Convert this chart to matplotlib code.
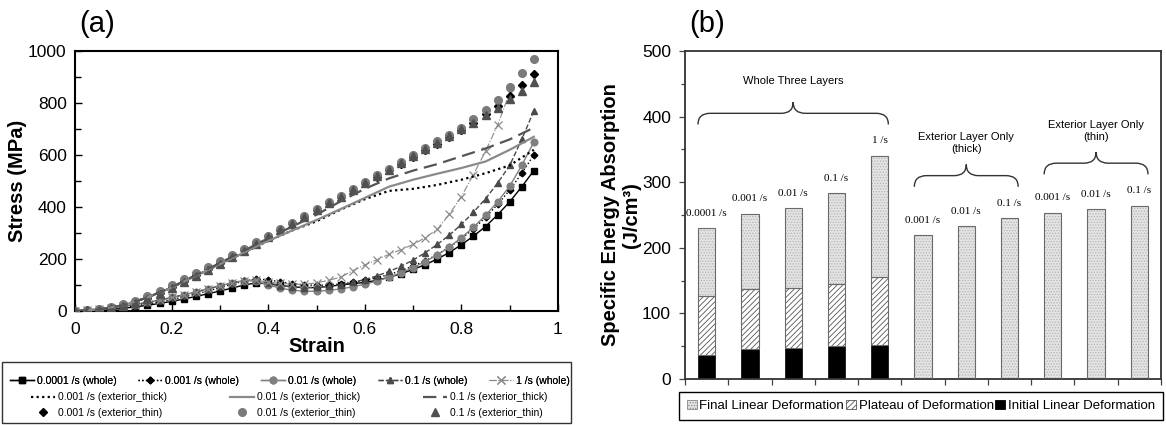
import numpy as np
import matplotlib
matplotlib.use('Agg')
import matplotlib.pyplot as plt
from matplotlib.patches import Rectangle, PathPatch, Patch
from matplotlib.path import Path
from matplotlib.ticker import MultipleLocator, FixedLocator

plt.rcParams['font.family'] = ['Liberation Sans', 'DejaVu Sans']
plt.rcParams['hatch.linewidth'] = 0.6

# ---------------- Panel (a) data ----------------
strain = [0, 0.025, 0.05, 0.075, 0.1, 0.125, 0.15, 0.175, 0.2, 0.225, 0.25, 0.275,
          0.3, 0.325, 0.35, 0.375, 0.4, 0.425, 0.45, 0.475, 0.5, 0.525, 0.55, 0.575,
          0.6, 0.625, 0.65, 0.675, 0.7, 0.725, 0.75, 0.775, 0.8, 0.825, 0.85, 0.875,
          0.9, 0.925, 0.95]
strain_1s = strain[:37]
strain_coarse = [0, 0.05, 0.1, 0.15, 0.2, 0.25, 0.3, 0.35, 0.4, 0.45, 0.5, 0.55,
                 0.6, 0.65, 0.7, 0.75, 0.8, 0.85, 0.9, 0.95]

whole_00001 = [0, 1, 3, 6, 10, 16, 22, 29, 37, 46, 56, 66, 77, 88, 100, 108, 104, 98, 93, 90,
               90, 95, 100, 105, 110, 118, 130, 143, 160, 178, 200, 225, 255, 288, 325, 370,
               420, 478, 540]
whole_0001 = [0, 2, 5, 9, 14, 20, 27, 35, 44, 54, 65, 77, 90, 103, 115, 123, 120, 112, 105, 100,
              99, 100, 104, 110, 118, 128, 140, 155, 173, 193, 217, 245, 278, 316, 360, 410,
              465, 530, 600]
whole_001 = [0, 3, 7, 12, 18, 25, 33, 42, 52, 62, 73, 85, 97, 108, 117, 115, 100, 88, 80, 76,
             76, 79, 85, 93, 103, 115, 130, 147, 167, 190, 216, 246, 282, 322, 368, 420,
             480, 560, 650]
whole_01 = [0, 3, 7, 12, 18, 25, 33, 42, 52, 62, 73, 85, 97, 108, 118, 118, 108, 98, 92, 90,
            91, 95, 101, 110, 121, 135, 152, 172, 196, 224, 256, 292, 333, 380, 432, 492,
            560, 660, 770]
whole_1 = [0, 3, 7, 12, 18, 25, 33, 42, 52, 62, 73, 85, 97, 108, 117, 118, 112, 106, 103, 103,
           108, 118, 130, 155, 177, 197, 218, 236, 256, 282, 314, 372, 440, 525, 615, 715, 840]

thick_0001 = [0, 6, 22, 52, 90, 135, 180, 225, 270, 310, 345, 390, 430, 462, 470, 485, 505, 530, 560, 620]
thick_001 = [0, 6, 22, 52, 90, 135, 180, 225, 270, 310, 350, 392, 435, 478, 505, 528, 550, 575, 620, 670]
thick_01 = [0, 6, 22, 52, 92, 138, 185, 232, 280, 325, 370, 422, 470, 510, 540, 565, 595, 625, 660, 705]

thin_0001 = [0, 2, 6, 12, 22, 34, 50, 70, 93, 115, 138, 161, 185, 210, 236, 261, 287, 312, 338, 363,
             389, 414, 440, 465, 491, 516, 542, 567, 593, 618, 644, 669, 695, 725, 757, 790,
             828, 868, 912]
thin_001 = [0, 3, 8, 15, 26, 40, 57, 77, 100, 122, 145, 168, 192, 216, 240, 265, 290, 315, 340, 366,
            392, 418, 444, 470, 496, 522, 548, 574, 600, 626, 652, 678, 705, 737, 772, 810,
            860, 915, 970]
thin_01 = [0, 2, 5, 11, 20, 32, 47, 66, 88, 110, 133, 157, 181, 206, 232, 258, 284, 310, 336, 362,
           388, 414, 440, 466, 492, 518, 544, 570, 596, 622, 648, 674, 700, 725, 752, 782,
           815, 848, 880]

# ---------------- Panel (b) data ----------------
rate_labels = ['0.0001 /s', '0.001 /s', '0.01 /s', '0.1 /s', '1 /s',
               '0.001 /s', '0.01 /s', '0.1 /s',
               '0.001 /s', '0.01 /s', '0.1 /s']
initial = [36, 46, 47, 51, 52, 0, 0, 0, 0, 0, 0]
plateau = [91, 91, 91, 94, 103, 0, 0, 0, 0, 0, 0]
final = [103, 115, 122, 138, 185, 219, 233, 245, 253, 259, 264]
groups = ['Whole Three Layers', 'Exterior Layer Only\n(thick)', 'Exterior Layer Only\n(thin)']
group_members = [[0, 1, 2, 3, 4], [5, 6, 7], [8, 9, 10]]

W, H = 1166, 425
fig = plt.figure(figsize=(W / 100, H / 100), dpi=100)


def fx(px):
    return px / W


def fy(py):
    return 1 - py / H


# ================= Panel (a) =================
axa = fig.add_axes([fx(75), fy(311), (558 - 75) / W, (311 - 51) / H])

h1, = axa.plot(strain, whole_00001, color='black', ls='-', lw=1.0, marker='s', ms=4.2,
               label='0.0001 /s (whole)', zorder=3)
h2, = axa.plot(strain, whole_0001, color='black', ls=':', lw=1.0, marker='D', ms=3.4,
               label='0.001 /s (whole)', zorder=3)
h3, = axa.plot(strain, whole_001, color='#808080', ls='-', lw=1.0, marker='o', ms=4.8,
               label='0.01 /s (whole)', zorder=3)
h4, = axa.plot(strain, whole_01, color='#4a4a4a', ls='--', lw=1.0, marker='^', ms=4.8,
               label='0.1 /s (whole)', zorder=3)
h5, = axa.plot(strain_1s, whole_1, color='#8a8a8a', ls='-.', lw=0.8, marker='x', ms=5.5,
               mew=0.9, label='1 /s (whole)', zorder=3)

t1, = axa.plot(strain, thin_0001, ls='none', color='black', marker='D', ms=3.8,
               label='0.001 /s (exterior_thin)', zorder=4)
t2, = axa.plot(strain, thin_001, ls='none', color='#7a7a7a', marker='o', ms=5.5,
               label='0.01 /s (exterior_thin)', zorder=4)
t3, = axa.plot(strain, thin_01, ls='none', color='#505050', marker='^', ms=5.5,
               label='0.1 /s (exterior_thin)', zorder=4)

k1, = axa.plot(strain_coarse, thick_0001, color='black', ls=(0, (1, 1.5)), lw=1.6,
               label='0.001 /s (exterior_thick)', zorder=5)
k2, = axa.plot(strain_coarse, thick_001, color='#8a8a8a', ls='-', lw=1.6,
               label='0.01 /s (exterior_thick)', zorder=5)
k3, = axa.plot(strain_coarse, thick_01, color='#555555', ls=(0, (6, 3)), lw=1.6,
               label='0.1 /s (exterior_thick)', zorder=5)

axa.set_xlim(0, 1)
axa.set_ylim(0, 1000)
axa.xaxis.set_minor_locator(MultipleLocator(0.1))
axa.yaxis.set_major_locator(MultipleLocator(200))
axa.yaxis.set_minor_locator(MultipleLocator(100))
axa.set_xticks([0, 0.2, 0.4, 0.6, 0.8, 1.0])
axa.set_xticklabels(['0', '0.2', '0.4', '0.6', '0.8', '1'])
axa.tick_params(axis='both', which='both', direction='in', labelsize=12.5, width=1)
axa.tick_params(axis='x', which='major', length=5, pad=8)
axa.tick_params(axis='x', which='minor', length=4)
axa.tick_params(axis='y', which='major', length=5, pad=6)
axa.tick_params(axis='y', which='minor', length=4)
for sp in axa.spines.values():
    sp.set_linewidth(1.5)
    sp.set_color('black')
axa.set_xlabel('Strain', fontsize=14.5, fontweight='bold', labelpad=0)
fig.text(fx(18), fy(181), 'Stress (MPa)', fontsize=14.5, fontweight='bold', rotation=90,
         ha='center', va='center')

fig.text(fx(97), fy(24), '(a)', fontsize=21, ha='center', va='center')

# legend frame (a)
fig.add_artist(Rectangle((fx(2), fy(423)), (571 - 2) / W, (423 - 362) / H,
                         transform=fig.transFigure, fill=False, edgecolor='#333333', lw=1.0))
leg1 = fig.legend(handles=[h1, h2, h3, h4, h5], loc='lower left',
                  bbox_to_anchor=(fx(10), fy(386), (570 - 10) / W, (386 - 368) / H),
                  mode='expand', ncol=5, frameon=False, fontsize=7.5,
                  handlelength=2.3, handletextpad=0.3, borderaxespad=0, borderpad=0,
                  columnspacing=0.5)
fig.add_artist(leg1)
leg2 = fig.legend(handles=[k1, t1, k2, t2, k3, t3], loc='lower left',
                  bbox_to_anchor=(fx(31), fy(418), (548 - 31) / W, (418 - 385) / H),
                  mode='expand', ncol=3, frameon=False, fontsize=7.5,
                  handlelength=2.3, handletextpad=0.3, borderaxespad=0, borderpad=0,
                  labelspacing=0.55, columnspacing=0.5)

# ================= Panel (b) =================
axb = fig.add_axes([fx(685), fy(379), (1161 - 685) / W, (379 - 51) / H])
xpos = np.arange(len(rate_labels))
bw = 0.4
init_arr = np.array(initial)
plat_arr = np.array(plateau)
fin_arr = np.array(final)
total = init_arr + plat_arr + fin_arr

final_face = '#e4e4e4'
final_hatch = '#b4b4b4'
outline = '#6a6a6a'

axb.bar(xpos, init_arr, bw, color='black', edgecolor='black', lw=0.5, zorder=2)
axb.bar(xpos, plat_arr, bw, bottom=init_arr, facecolor='white', edgecolor='#555555',
        hatch='//////', lw=0, zorder=2)
axb.bar(xpos, plat_arr, bw, bottom=init_arr, fill=False, edgecolor=outline, lw=0.8, zorder=3)
axb.bar(xpos, fin_arr, bw, bottom=init_arr + plat_arr, facecolor=final_face,
        edgecolor=final_hatch, hatch='......', lw=0, zorder=2)
axb.bar(xpos, fin_arr, bw, bottom=init_arr + plat_arr, fill=False, edgecolor=outline,
        lw=0.8, zorder=3)

for xi, tv, lab in zip(xpos, total, rate_labels):
    axb.text(xi, tv + 23, lab, ha='center', va='center', fontsize=8,
             family=['Liberation Serif', 'DejaVu Serif'])


def brace(ax, x0, x1, yb, ym, yt, r=0.28):
    xc = 0.5 * (x0 + x1)
    verts = [(x0, yb), (x0, ym), (x0 + r, ym),
             (xc - r, ym), (xc, ym), (xc, yt),
             (xc, ym), (xc + r, ym),
             (x1 - r, ym), (x1, ym), (x1, yb)]
    codes = [Path.MOVETO, Path.CURVE3, Path.CURVE3,
             Path.LINETO, Path.CURVE3, Path.CURVE3,
             Path.CURVE3, Path.CURVE3,
             Path.LINETO, Path.CURVE3, Path.CURVE3]
    ax.add_patch(PathPatch(Path(verts, codes), fill=False, edgecolor='#333333', lw=1.0))


for name, members in zip(groups, group_members):
    top = max(total[m] for m in members)
    base = top + 48
    x0 = members[0] - 0.2
    x1 = members[-1] + 0.2
    brace(axb, x0, x1, base, base + 17, base + 34)
    axb.text(0.5 * (members[0] + members[-1]), base + 66, name, ha='center', va='center',
             fontsize=8, linespacing=1.25)

axb.set_xlim(-0.5, len(rate_labels) - 0.5)
axb.set_ylim(0, 500)
axb.xaxis.set_major_locator(FixedLocator(np.arange(-0.5, len(rate_labels), 1.0)))
axb.set_xticklabels([])
axb.yaxis.set_major_locator(MultipleLocator(100))
axb.yaxis.set_minor_locator(MultipleLocator(50))
axb.tick_params(axis='both', which='both', direction='out', labelsize=12.5, width=0.9,
                color='#444444')
axb.tick_params(axis='x', which='major', length=4)
axb.tick_params(axis='y', which='major', length=4, pad=6)
axb.tick_params(axis='y', which='minor', length=3)
for sp in axb.spines.values():
    sp.set_linewidth(1.3)
    sp.set_color('#333333')

fig.text(fx(611), fy(215), 'Specific Energy Absorption', fontsize=14.5,
         fontweight='bold', rotation=90, ha='center', va='center')
fig.text(fx(631), fy(215), '(J/cm³)', fontsize=14.5,
         fontweight='bold', rotation=90, ha='center', va='center')

fig.text(fx(707), fy(24), '(b)', fontsize=21, ha='center', va='center')

leg_handles = [Patch(facecolor=final_face, edgecolor='#888888', hatch='......', lw=0.6),
               Patch(facecolor='white', edgecolor='#555555', hatch='//////', lw=0.6),
               Patch(facecolor='black', edgecolor='black', lw=0.6)]
legb = fig.legend(handles=leg_handles,
                  labels=['Final Linear Deformation', 'Plateau of Deformation',
                          'Initial Linear Deformation'],
                  loc='lower left', bbox_to_anchor=(fx(679), fy(420), (1163 - 679) / W, (420 - 387) / H),
                  mode='expand', ncol=3, fontsize=9.5, handlelength=0.75, handleheight=0.75,
                  handletextpad=0.2, columnspacing=0.3, borderaxespad=0, borderpad=0.6,
                  fancybox=False, edgecolor='black', framealpha=1)
legb.get_frame().set_linewidth(1.0)

fig.savefig('out.png', dpi=100)
